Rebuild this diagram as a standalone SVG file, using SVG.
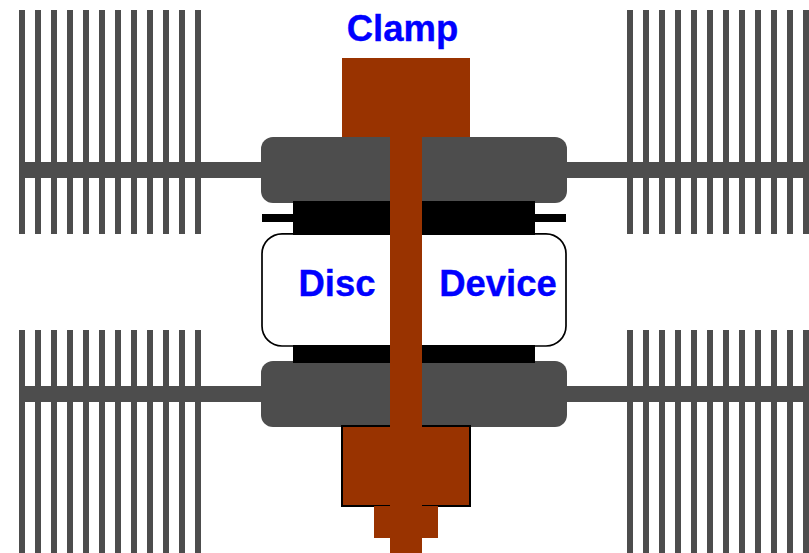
<svg xmlns="http://www.w3.org/2000/svg" xmlns:xlink="http://www.w3.org/1999/xlink" width="809" height="553" viewBox="0 0 809 553">
<style>
.g{fill:#4d4d4d}
.k{fill:#000}
.b{fill:#993300}
.t{font-family:"Liberation Sans",Arial,sans-serif;font-weight:bold;font-size:36.5px;fill:#0000ff;stroke:#0000ff;stroke-width:0.35px;text-anchor:middle}
</style>
<defs>
<g id="fins">
<rect class="g" x="0" y="0" width="6" height="224"/><rect class="g" x="16" y="0" width="6" height="224"/><rect class="g" x="32" y="0" width="6" height="224"/><rect class="g" x="48" y="0" width="6" height="224"/><rect class="g" x="64" y="0" width="6" height="224"/><rect class="g" x="80" y="0" width="6" height="224"/><rect class="g" x="96" y="0" width="6" height="224"/><rect class="g" x="112" y="0" width="6" height="224"/><rect class="g" x="128" y="0" width="6" height="224"/><rect class="g" x="144" y="0" width="6" height="224"/><rect class="g" x="160" y="0" width="6" height="224"/><rect class="g" x="176" y="0" width="6" height="224"/>
</g>
</defs>
<rect width="809" height="553" fill="#fff"/>
<g id="heatsink-top-left"><use xlink:href="#fins" href="#fins" x="19" y="10"/><rect class="g" x="19" y="162" width="242" height="16"/></g>
<g id="heatsink-top-right"><use xlink:href="#fins" href="#fins" x="627" y="10"/><rect class="g" x="567" y="162" width="242" height="16"/></g>
<g id="heatsink-bottom-left"><use xlink:href="#fins" href="#fins" x="19" y="330"/><rect class="g" x="19" y="386" width="242" height="16"/></g>
<g id="heatsink-bottom-right"><use xlink:href="#fins" href="#fins" x="627" y="330"/><rect class="g" x="567" y="386" width="242" height="16"/></g>
<g id="clamp-top"><rect class="b" x="342" y="58" width="128" height="80"/></g>
<g id="plate-top"><rect class="g" x="261" y="137" width="306" height="66" rx="12"/></g>
<g id="plate-bottom"><rect class="g" x="261" y="361" width="306" height="66" rx="12"/></g>
<g id="spacers">
<rect class="k" x="262" y="214" width="304" height="8"/>
</g>
<g id="device-disc">
<rect x="262" y="233.8" width="304" height="112.2" rx="20" fill="#fff" stroke="#000" stroke-width="1.7"/>
<rect class="k" x="293" y="201" width="242" height="34"/>
<rect class="k" x="293" y="345" width="242" height="18"/>
<text class="t" x="337" y="296">Disc</text>
<text class="t" x="498" y="296">Device</text>
</g>
<g id="plate-bottom-front"/>
<g id="clamp-bottom">
<rect class="b" x="342" y="426" width="128" height="80" stroke="#000" stroke-width="2"/>
<rect class="b" x="374" y="506" width="64" height="32"/>
</g>
<g id="rod"><rect class="b" x="390" y="137" width="32" height="416"/></g>
<g id="clamp-label"><text class="t" x="402.5" y="41">Clamp</text></g>
<g id="connectors"/>
</svg>
